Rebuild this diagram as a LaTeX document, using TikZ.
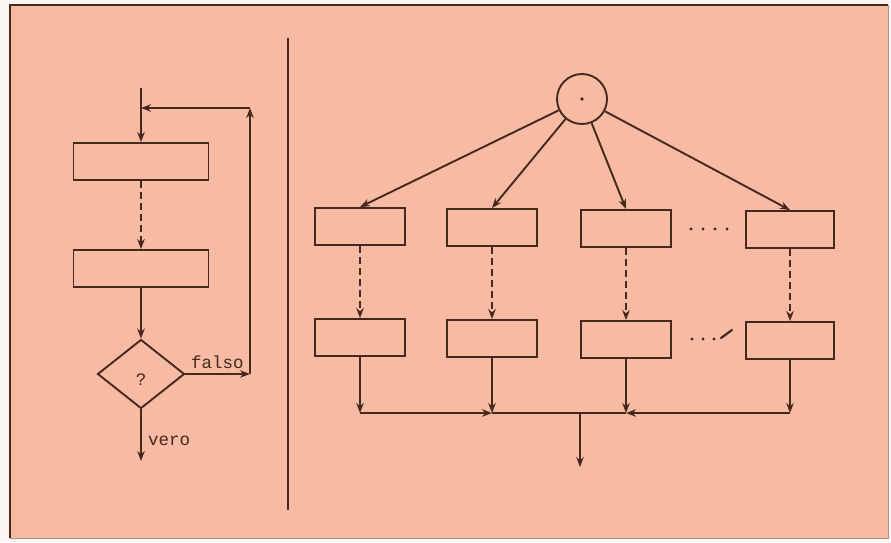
\documentclass[tikz,border=0pt]{standalone}
\usepackage{fontspec}
\setmonofont{Liberation Mono}
\usetikzlibrary{arrows.meta,shapes.geometric}
\definecolor{paper}{RGB}{247,186,162}
\definecolor{ink}{RGB}{70,40,30}
\definecolor{outside}{RGB}{252,246,242}
\begin{document}
\begin{tikzpicture}[x=1pt,y=-1pt,
  line/.style={draw=ink,line width=1.9pt},
  arr/.style={line,-{Stealth[length=10pt,width=7.5pt]}},
  darr/.style={arr,dash pattern=on 7pt off 4pt},
  box/.style={draw=ink,line width=1.9pt,minimum width=#1,minimum height=37pt,inner sep=0pt},
  box/.default=90pt,
  lbl/.style={text=ink,font=\ttfamily\fontsize{17.5}{17.5}\selectfont,inner sep=0pt}]
\useasboundingbox (0,0) rectangle (891,542);
\fill[outside] (0,0) rectangle (891,542);
\fill[paper] (10,5) rectangle (888,538);
\draw[ink,line width=1.2pt] (10,538) -- (10,5) -- (888,5);
\draw[ink!50,line width=0.6pt] (888,5) -- (888,538) -- (10,538);
% separator
\draw[line] (288,38) -- (288,510);
% ---------- left flowchart ----------
\node[box=135pt] (b1) at (141,161.5) {};
\node[box=135pt] (b2) at (141,268.5) {};
\node[draw=ink,line width=1.9pt,diamond,aspect=1.26,minimum width=87pt,minimum height=69pt,inner sep=0pt] (q) at (141,374) {};
\node[lbl] at (141,380) {?};
\coordinate (in) at (141,88);
\coordinate (fr) at (250,374);
\coordinate (tr) at (250,108);
\coordinate (tl) at (141,108);
\coordinate (out) at (141,461);
\draw[arr] (in) -- (b1.north);
\draw[darr] (b1.south) -- (b2.north);
\draw[arr] (b2.south) -- (q.north);
\draw[arr] (q.east) -- (fr);
\draw[arr] (fr) -- (tr);
\draw[arr] (tr) -- (tl);
\draw[arr] (q.south) -- (out);
\node[lbl,anchor=base west] (falso) at (191,368) {falso};
\node[lbl,anchor=base west] (vero) at (148,445) {vero};
% ---------- right diagram ----------
\node[draw=ink,line width=1.9pt,circle,minimum size=50pt,inner sep=0pt] (c) at (582,99) {};
\fill[ink] (c.center) circle (1.8pt);
\node[box] (A) at (360,226.5) {};
\node[box] (B) at (492,227.5) {};
\node[box] (C) at (626,228.5) {};
\node[box=88pt] (D) at (790,229.5) {};
\node[box] (A2) at (360,337.5) {};
\node[box] (B2) at (492,338.5) {};
\node[box] (C2) at (626,339.5) {};
\node[box=88pt] (D2) at (790,340.5) {};
\foreach \n in {A,B,C,D} {
  \draw[arr] (c) -- (\n.north);
  \draw[darr] (\n.south) -- (\n2.north);
}
\coordinate (jA) at (360,413);
\coordinate (jB) at (492,413);
\coordinate (jC) at (626,413);
\coordinate (jD) at (790,413);
\coordinate (jO) at (580,413);
\coordinate (fin) at (580,467);
\foreach \n in {A,B,C,D} {
  \draw[arr] (\n2.south) -- (j\n);
}
\draw[arr] (jA) -- (jB);
\draw[line] (jB) -- (jC);
\draw[arr] (jD) -- (jC);
\draw[arr] (jO) -- (fin);
% dots
\foreach \x in {691,703,715,727} \fill[ink] (\x,229) circle (1.7pt);
\foreach \x in {692,703,714} \fill[ink] (\x,339) circle (1.7pt);
\draw[ink,line width=2.2pt,line cap=round] (721,338) -- (732,330);
\end{tikzpicture}
\end{document}
